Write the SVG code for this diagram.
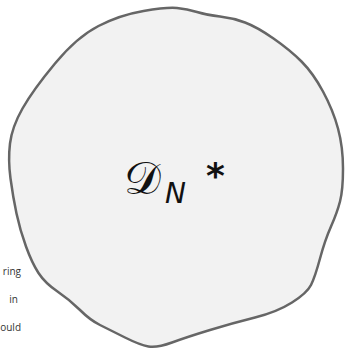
<svg xmlns="http://www.w3.org/2000/svg" width="345" height="351" viewBox="0 0 345 351">
<style>
.side{font-family:"Open Sans","Liberation Sans",sans-serif;font-size:10px;fill:#333;text-anchor:end}
.math{fill:#111}
</style>
<rect width="345" height="351" fill="#fff"/>
<g id="side-text">
<text class="side" x="21" y="275">ring</text>
<text class="side" x="18" y="303">in</text>
<text class="side" x="21" y="331">ould</text>
</g>
<g id="blob">
<path d="M143.5,11 Q167,7 177,8 Q187,9 197,12 Q207,15 220,16.5 Q233,18 245,22.5 Q257,27 273.5,38.5 Q290,50 301.5,61.5 Q313,73 323,91.5 Q333,110 338,128.5 Q343,147 343,168.5 Q343,190 340,201.5 Q337,213 331,226.5 Q325,240 320,258.5 Q315,277 311,285 Q307,293 292,302.5 Q277,312 255,317.5 Q233,323 210,330 Q187,337 172,342.5 Q157,348 148.5,346.5 Q140,345 125,337.5 Q110,330 100,325 Q90,320 80,310 Q70,300 57.5,291.5 Q45,283 38.5,273 Q32,263 26,246.5 Q20,230 16.5,213.5 Q13,197 10.5,178.5 Q8,160 10,143.5 Q12,127 22.5,108.5 Q33,90 55,63.5 Q77,37 98.5,26 Q120,15 143.5,11 Z" fill="#f2f2f2" stroke="#666" stroke-width="2.5" stroke-linejoin="round"/>
<text class="math" x="124" y="194" style="font-family:'DejaVu Serif',serif;font-size:46px">𝒟</text>
<text class="math" x="165" y="203" style="font-family:'DejaVu Sans',sans-serif;font-size:28px;font-style:italic">N</text>
<text class="math" x="206" y="188" style="font-family:'DejaVu Sans',sans-serif;font-size:36px;font-weight:bold">*</text>
</g>
</svg>
